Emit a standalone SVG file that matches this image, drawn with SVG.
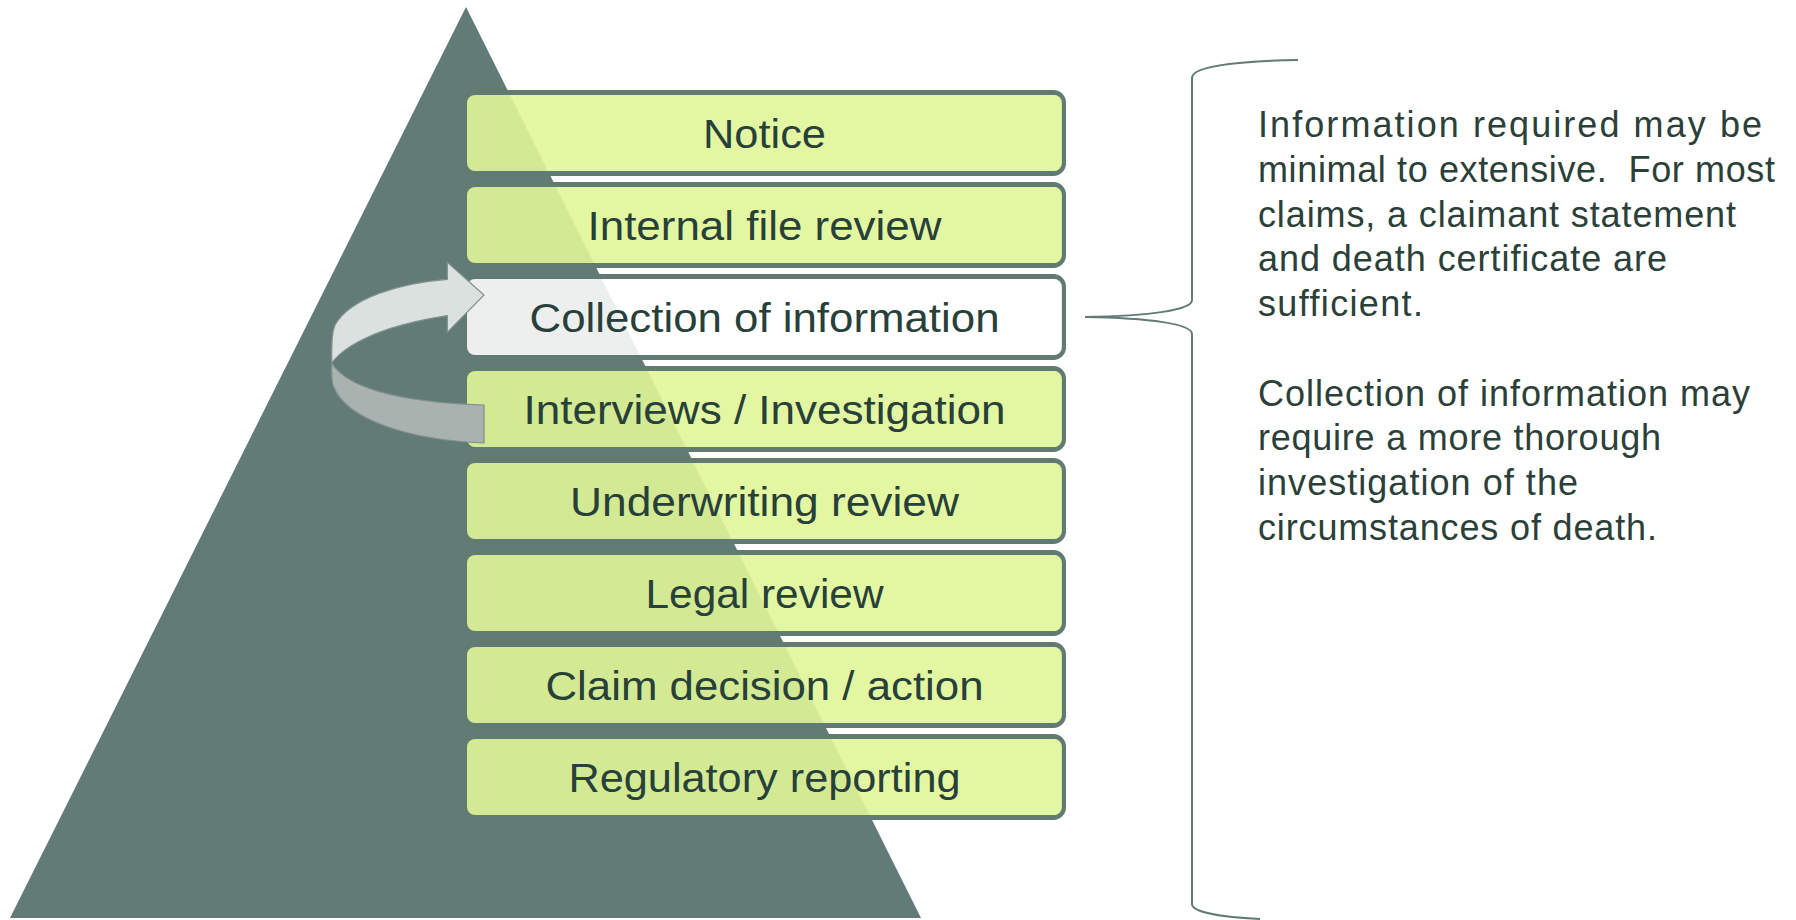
<svg xmlns="http://www.w3.org/2000/svg" width="1796" height="920" viewBox="0 0 1796 920">
<style>
.frame{fill:none;stroke:#617a74;stroke-width:5}
.lime{fill:#e0f597;fill-opacity:0.9}
.white{fill:#ffffff;fill-opacity:0.88}
.lbl{font-family:"Liberation Sans",Arial,sans-serif;font-size:40px;fill:#28403a;text-anchor:middle}
.note{font-family:"Liberation Sans",Arial,sans-serif;font-size:36px;fill:#2b4038}
.brace{fill:none;stroke:#627b76;stroke-width:2}
.arr{stroke:#7f918c;stroke-width:1.2}
</style>
<rect width="1796" height="920" fill="#ffffff"/>
<g id="pyramid"><polygon points="466,7 921,918 10,918" fill="#627b76"/></g>

<g id="notice">
<rect class="frame" x="464.5" y="92.5" width="599" height="81" rx="10"/>
<rect class="lime" x="467" y="95" width="595" height="76" rx="8"/>
<text class="lbl" x="764.5" y="148" textLength="123" lengthAdjust="spacingAndGlyphs">Notice</text>
</g>
<g id="internal-file-review">
<rect class="frame" x="464.5" y="184.5" width="599" height="81" rx="10"/>
<rect class="lime" x="467" y="187" width="595" height="76" rx="8"/>
<text class="lbl" x="764.5" y="240" textLength="354" lengthAdjust="spacingAndGlyphs">Internal file review</text>
</g>
<g id="collection-of-information">
<rect class="frame" x="464.5" y="276.5" width="599" height="81" rx="10"/>
<rect class="white" x="467" y="279" width="595" height="76" rx="8"/>
<text class="lbl" x="764.5" y="332" textLength="470" lengthAdjust="spacingAndGlyphs">Collection of information</text>
</g>
<g id="interviews-investigation">
<rect class="frame" x="464.5" y="368.5" width="599" height="81" rx="10"/>
<rect class="lime" x="467" y="371" width="595" height="76" rx="8"/>
<text class="lbl" x="764.5" y="424" textLength="482" lengthAdjust="spacingAndGlyphs">Interviews / Investigation</text>
</g>
<g id="underwriting-review">
<rect class="frame" x="464.5" y="460.5" width="599" height="81" rx="10"/>
<rect class="lime" x="467" y="463" width="595" height="76" rx="8"/>
<text class="lbl" x="764.5" y="516" textLength="389" lengthAdjust="spacingAndGlyphs">Underwriting review</text>
</g>
<g id="legal-review">
<rect class="frame" x="464.5" y="552.5" width="599" height="81" rx="10"/>
<rect class="lime" x="467" y="555" width="595" height="76" rx="8"/>
<text class="lbl" x="764.5" y="608" textLength="238" lengthAdjust="spacingAndGlyphs">Legal review</text>
</g>
<g id="claim-decision-action">
<rect class="frame" x="464.5" y="644.5" width="599" height="81" rx="10"/>
<rect class="lime" x="467" y="647" width="595" height="76" rx="8"/>
<text class="lbl" x="764.5" y="700" textLength="438" lengthAdjust="spacingAndGlyphs">Claim decision / action</text>
</g>
<g id="regulatory-reporting">
<rect class="frame" x="464.5" y="736.5" width="599" height="81" rx="10"/>
<rect class="lime" x="467" y="739" width="595" height="76" rx="8"/>
<text class="lbl" x="764.5" y="792" textLength="392" lengthAdjust="spacingAndGlyphs">Regulatory reporting</text>
</g>

<g id="connectors">
<g id="loop-arrow">
<path class="arr" fill="#aab2b0" d="M331.7,363 C345,385 390,402 484,405 L484,443 C410,440 345,420 333,385 C331.5,380 331.7,372 331.7,363 Z"/>
<path class="arr" fill="#dbe1df" d="M447.3,279.3 C400,283 350,298 335,325 C332,332 331.7,340 331.7,363 C345,345 380,326 447.3,315.7 L447.3,332.3 L484,295 L447.3,262.3 Z"/>
</g>
<path id="brace" class="brace" d="M1298,60 C1240,61 1192,66 1192,78 L1192,300 C1192,310 1150,316 1085,317 C1150,318 1192,324 1192,334 L1192,904 C1192,912 1220,917 1260,919"/>
</g>

<g id="note">
<text class="note" x="1258" y="137" textLength="504">Information required may be</text>
<text class="note" x="1258" y="182" textLength="517" xml:space="preserve">minimal to extensive.  For most</text>
<text class="note" x="1258" y="226.5" textLength="478">claims, a claimant statement</text>
<text class="note" x="1258" y="271" textLength="409">and death certificate are</text>
<text class="note" x="1258" y="316" textLength="165">sufficient.</text>
<text class="note" x="1258" y="405.5" textLength="492">Collection of information may</text>
<text class="note" x="1258" y="450" textLength="403">require a more thorough</text>
<text class="note" x="1258" y="495" textLength="320">investigation of the</text>
<text class="note" x="1258" y="539.5" textLength="399">circumstances of death.</text>
</g>
</svg>
